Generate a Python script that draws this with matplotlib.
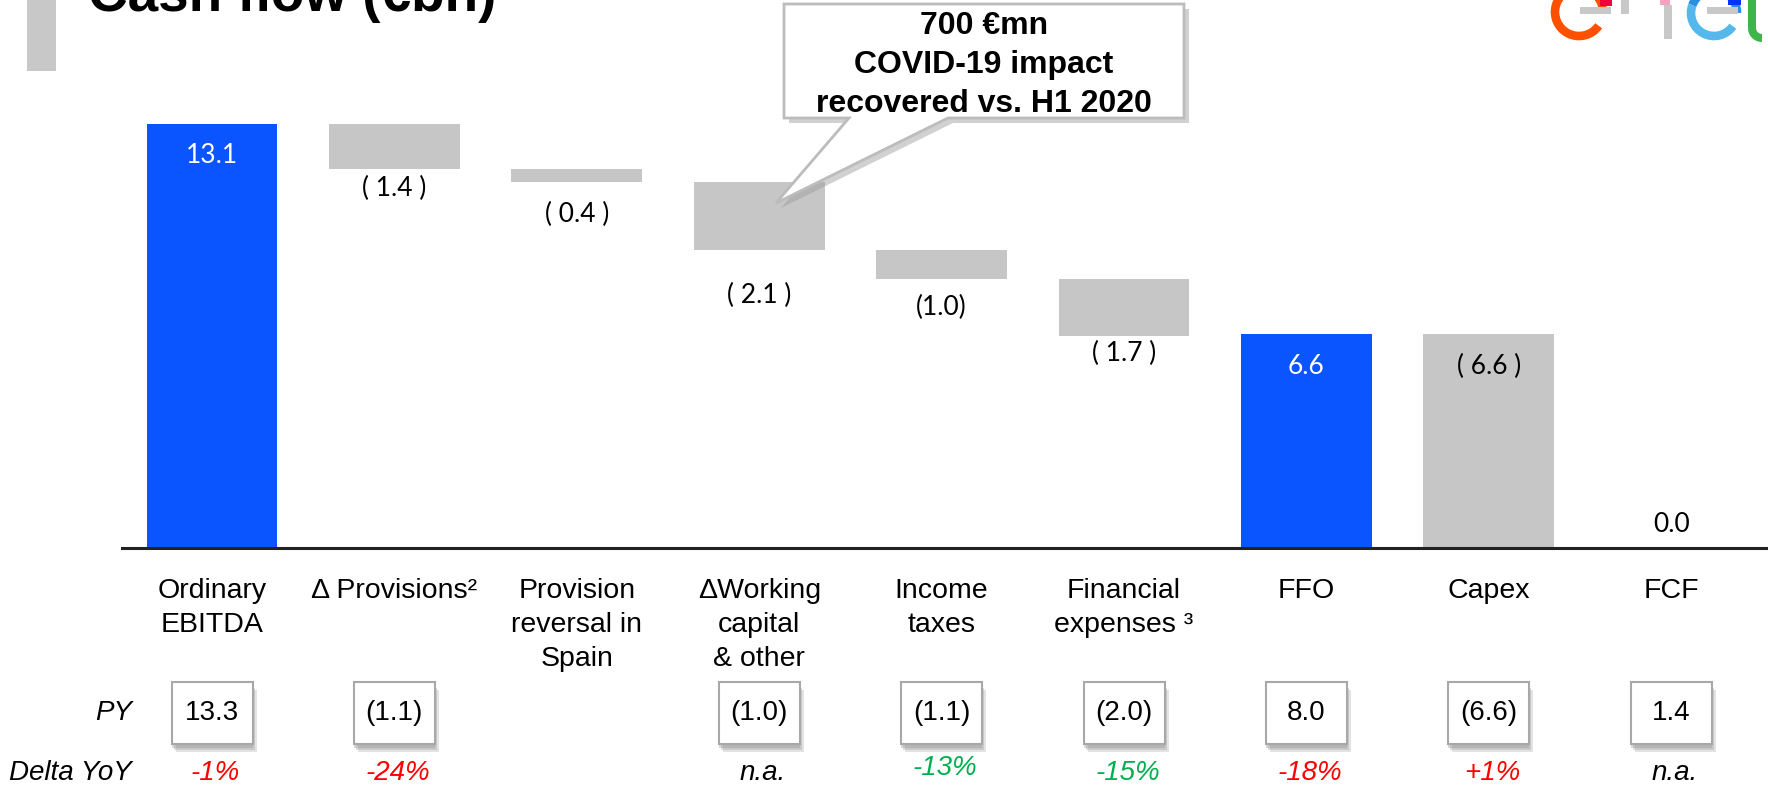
import numpy as np
import matplotlib.pyplot as plt
from matplotlib.patches import Rectangle, Polygon, Arc
from matplotlib.transforms import Affine2D

plt.rcParams['font.family'] = ['Liberation Sans', 'DejaVu Sans']

# ---- data ----
categories = ['Ordinary\nEBITDA', 'Δ Provisions²', 'Provision\nreversal in\nSpain',
              'ΔWorking\ncapital\n& other', 'Income\ntaxes', 'Financial\nexpenses ³',
              'FFO', 'Capex', 'FCF']
values = [13.1, -1.4, -0.4, -2.1, -0.9, -1.75, 6.6, -6.6, 0.0]
kinds = ['total', 'delta', 'delta', 'delta', 'delta', 'delta', 'total', 'delta', 'total']
bar_labels = ['13.1', '( 1.4 )', '( 0.4 )', '( 2.1 )', '(1.0)', '( 1.7 )', '6.6', '( 6.6 )', '0.0']
py_labels = ['13.3', '(1.1)', None, '(1.0)', '(1.1)', '(2.0)', '8.0', '(6.6)', '1.4']
delta_labels = ['-1%', '-24%', None, 'n.a.', '-13%', '-15%', '-18%', '+1%', 'n.a.']
delta_colors = ['red', 'red', None, 'black', 'green', 'green', 'red', 'red', 'black']
callout_lines = ['700 €mn', 'COVID-19 impact', 'recovered vs. H1 2020']
title = 'Cash flow (€bn)'

# ---- layout ----
W, H = 1768, 789
PITCH = 182.4      # px between bar centres
X0 = 212           # px of first bar centre
BASE = 548         # px row of the zero line
UNIT = 32.37       # px per bn
BLUE = '#0A55FF'
GRAY = '#C6C6C6'
cmap = {'red': '#FF0000', 'green': '#00B050', 'black': '#000000'}
label_at = ['top', 'bottom', 'bottom', 'bottom', 'bottom', 'bottom', 'top', 'top', 'top']
label_dy = [-32, -19, -32, -45, -28, -17, -32, -32, 24]
delta_row = [773, 773, 773, 773, 768, 773, 773, 773, 773]

fig = plt.figure(figsize=(W / 100, H / 100), dpi=100)
ax = fig.add_axes([0, 0, 1, 1])
ax.set_xlim(-X0 / PITCH, (W - X0) / PITCH)
ax.set_ylim(-(H - BASE) / UNIT, BASE / UNIT)
ax.axis('off')

px = Affine2D().scale(1 / W, -1 / H).translate(0, 1) + fig.transFigure
xt = ax.get_xaxis_transform()


def yf(row):
    return 1 - row / H


# waterfall
x = np.arange(len(values))
bottoms, heights = [], []
running = 0.0
for v, k in zip(values, kinds):
    if k == 'total':
        bottoms.append(0.0)
        heights.append(v)
        running = v
    else:
        running += v
        bottoms.append(running)
        heights.append(-v)
colors = [BLUE if k == 'total' else GRAY for k in kinds]
ax.bar(x, heights, bottom=bottoms, width=0.717, color=colors, zorder=2)
ax.axhline(0, xmin=122 / W, xmax=1, color='#222222', lw=2.2, zorder=3)

for i, lab in enumerate(bar_labels):
    anchor = bottoms[i] + heights[i] if label_at[i] == 'top' else bottoms[i]
    col = 'white' if kinds[i] == 'total' and heights[i] > 0 else 'black'
    ax.annotate(lab, (i, anchor), xytext=(0, label_dy[i]), textcoords='offset pixels',
                ha='center', va='center', fontsize=19, color=col, family=['Lato', 'DejaVu Sans'])

# category labels
for i, cat in enumerate(categories):
    for j, line in enumerate(cat.split('\n')):
        ax.text(i, yf(598 + 34 * j), line, transform=xt, ha='center', va='baseline',
                fontsize=20.5)

# PY row
ax.text(-0.44, yf(713), 'PY', transform=xt, ha='right', va='center', fontsize=20,
        style='italic')
bw, bh = 81 / PITCH, 62 / H
for i, lab in enumerate(py_labels):
    if lab is None:
        continue
    for k, a in enumerate([0.25, 0.3, 0.35]):
        off = 8 - 2 * k
        ax.add_patch(Rectangle((i - bw / 2 + (off - 4) / PITCH, yf(744) - off / H), bw, bh,
                               transform=xt, facecolor='#909090', edgecolor='none',
                               alpha=a, zorder=3))
    ax.add_patch(Rectangle((i - bw / 2, yf(744)), bw, bh, transform=xt, facecolor='white',
                           edgecolor='#A8A8A8', lw=1.5, zorder=4))
    ax.text(i, yf(713), lab, transform=xt, ha='center', va='center', fontsize=20, zorder=5)

# Delta YoY row
ax.text(-0.44, yf(773), 'Delta YoY', transform=xt, ha='right', va='center', fontsize=20,
        style='italic')
for i, lab in enumerate(delta_labels):
    if lab is None:
        continue
    ax.text(i + 0.02, yf(delta_row[i]), lab, transform=xt, ha='center', va='center',
            fontsize=20, style='italic', color=cmap[delta_colors[i]])

# callout
outline = [(784, 4), (1184, 4), (1184, 118), (948, 118), (776, 203), (849, 118), (784, 118)]
shadow = [(a + 5, b + 5) for a, b in outline]
fig.add_artist(Polygon(shadow, closed=True, transform=px, facecolor='#9A9A9A',
                       edgecolor='none', alpha=0.45, zorder=6))
fig.add_artist(Polygon(outline, closed=True, transform=px, facecolor='white',
                       edgecolor='#BCBCBC', lw=2, zorder=7))
for j, line in enumerate(callout_lines):
    fig.text(984 / W, yf(26 + 39 * j), line, ha='center', va='center', fontsize=23,
             weight='bold', zorder=8)

# title and side bar
fig.add_artist(Rectangle((27, 0), 29, 71, transform=px, facecolor='#C8C8C8',
                         edgecolor='none'))
fig.text(88 / W, yf(11), title, ha='left', va='baseline', fontsize=39.5, weight='bold')

# logo fragment (top right)
fig.add_artist(Arc((1579, 12), 48, 48, theta1=35, theta2=360, transform=px,
                   color='#FF5000', lw=6.2))
fig.add_artist(Rectangle((1580, 7), 31, 7, transform=px, facecolor='#C8C8C8', edgecolor='none'))
fig.add_artist(Rectangle((1600, 0), 12, 6, transform=px, facecolor='#F0003C', edgecolor='none'))
fig.add_artist(Rectangle((1621, 0), 8, 14, transform=px, facecolor='#C8C8C8', edgecolor='none'))
fig.add_artist(Rectangle((1660, 0), 10, 5, transform=px, facecolor='#F7A0C0', edgecolor='none'))
fig.add_artist(Rectangle((1664, 5), 8, 34, transform=px, facecolor='#C8C8C8', edgecolor='none'))
fig.add_artist(Arc((1714, 13), 46, 46, theta1=35, theta2=200, transform=px,
                   color='#55B8EC', lw=6.2))
fig.add_artist(Arc((1714, 13), 46, 46, theta1=200, theta2=360, transform=px,
                   color='#2A8FE0', lw=6.2))
fig.add_artist(Rectangle((1728, 0), 13, 5, transform=px, facecolor='#0033FF', edgecolor='none'))
fig.add_artist(Rectangle((1707, 7), 31, 7, transform=px, facecolor='#C8C8C8', edgecolor='none'))
fig.add_artist(Rectangle((1748, 0), 8, 28, transform=px, facecolor='#3DB54A', edgecolor='none'))
fig.add_artist(Arc((1762, 28), 20, 20, theta1=90, theta2=180, transform=px,
                   color='#3DB54A', lw=5.8))

fig.savefig('out.png', dpi=100)
